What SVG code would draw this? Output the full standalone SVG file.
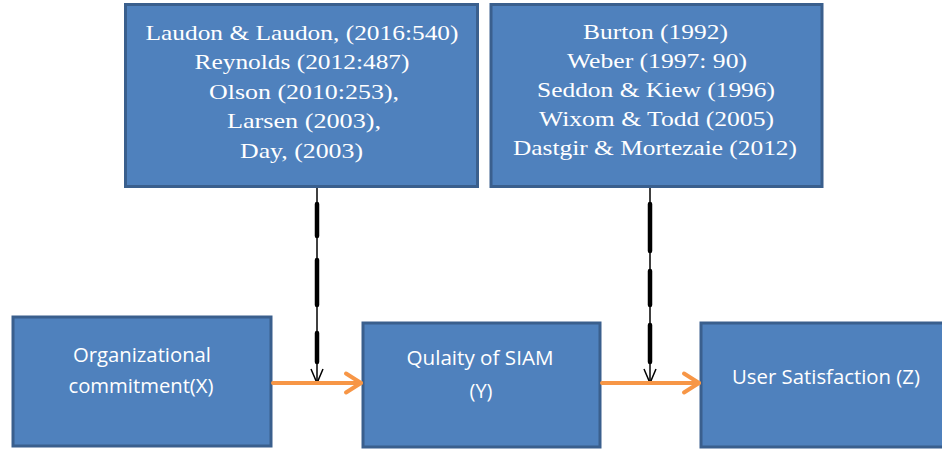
<svg xmlns="http://www.w3.org/2000/svg" width="942" height="449" viewBox="0 0 942 449">
<style>
.box{fill:#4F81BD;stroke:#3A5F8D;stroke-width:3}
.ser{font-family:"Liberation Serif","Times New Roman",serif;font-size:22px;fill:#fff;text-anchor:middle}
.san{font-family:"Open Sans","Liberation Sans",sans-serif;font-size:20px;fill:#fff;text-anchor:middle}
.thin{stroke:#000;stroke-width:1.5;fill:none}
.thick{stroke:#000;stroke-width:4.5;stroke-linecap:round}
.orange{stroke:#F79646;stroke-width:4;fill:none;stroke-linecap:round;stroke-linejoin:round}
</style>
<rect width="942" height="449" fill="#fff"/>
<g id="refs-left">
<rect class="box" x="125.5" y="4.5" width="352" height="182"/>
<text class="ser" x="302" y="39.5" textLength="313" lengthAdjust="spacingAndGlyphs">Laudon &amp; Laudon, (2016:540)</text>
<text class="ser" x="302" y="69" textLength="215" lengthAdjust="spacingAndGlyphs">Reynolds (2012:487)</text>
<text class="ser" x="304" y="98.5" textLength="190" lengthAdjust="spacingAndGlyphs">Olson (2010:253),</text>
<text class="ser" x="304" y="128" textLength="154" lengthAdjust="spacingAndGlyphs">Larsen (2003),</text>
<text class="ser" x="301.5" y="157.5" textLength="123" lengthAdjust="spacingAndGlyphs">Day, (2003)</text>
</g>
<g id="refs-right">
<rect class="box" x="491" y="4.5" width="331" height="182"/>
<text class="ser" x="655.5" y="39" textLength="145" lengthAdjust="spacingAndGlyphs">Burton (1992)</text>
<text class="ser" x="657" y="68" textLength="180" lengthAdjust="spacingAndGlyphs">Weber (1997: 90)</text>
<text class="ser" x="656" y="97" textLength="238" lengthAdjust="spacingAndGlyphs">Seddon &amp; Kiew (1996)</text>
<text class="ser" x="656.5" y="126" textLength="235" lengthAdjust="spacingAndGlyphs">Wixom &amp; Todd (2005)</text>
<text class="ser" x="655" y="155" textLength="284" lengthAdjust="spacingAndGlyphs">Dastgir &amp; Mortezaie (2012)</text>
</g>
<g id="node-x">
<rect class="box" x="13" y="317" width="258" height="129"/>
<text class="san" x="142" y="361.5" textLength="138" lengthAdjust="spacingAndGlyphs">Organizational</text>
<text class="san" x="141" y="392.5" textLength="145" lengthAdjust="spacingAndGlyphs">commitment(X)</text>
</g>
<g id="node-y">
<rect class="box" x="363" y="323" width="237" height="124"/>
<text class="san" x="480" y="364.5" textLength="147" lengthAdjust="spacingAndGlyphs">Qulaity of SIAM</text>
<text class="san" x="481" y="398">(Y)</text>
</g>
<g id="node-z">
<rect class="box" x="701" y="323" width="245" height="124"/>
<text class="san" x="826" y="383.5" textLength="188" lengthAdjust="spacingAndGlyphs">User Satisfaction (Z)</text>
</g>
<g id="connectors">
<line class="thin" x1="317" y1="188" x2="317" y2="383"/>
<line class="thick" x1="317" y1="204" x2="317" y2="236"/>
<line class="thick" x1="317" y1="260" x2="317" y2="305"/>
<line class="thick" x1="317" y1="333" x2="317" y2="362"/>
<polyline class="thin" points="311,369 317,383 323,369"/>
<line class="thin" x1="650" y1="188" x2="650" y2="383"/>
<line class="thick" x1="650" y1="204" x2="650" y2="251"/>
<line class="thick" x1="650" y1="271" x2="650" y2="305"/>
<line class="thick" x1="650" y1="325" x2="650" y2="362"/>
<polyline class="thin" points="644,369 650,383 656,369"/>
<line class="orange" x1="273" y1="383" x2="361" y2="383"/>
<polyline class="orange" points="346,373.5 361,383 346,392.5"/>
<line class="orange" x1="602" y1="383" x2="699" y2="383"/>
<polyline class="orange" points="684,373.5 699,383 684,392.5"/>
</g>
</svg>
